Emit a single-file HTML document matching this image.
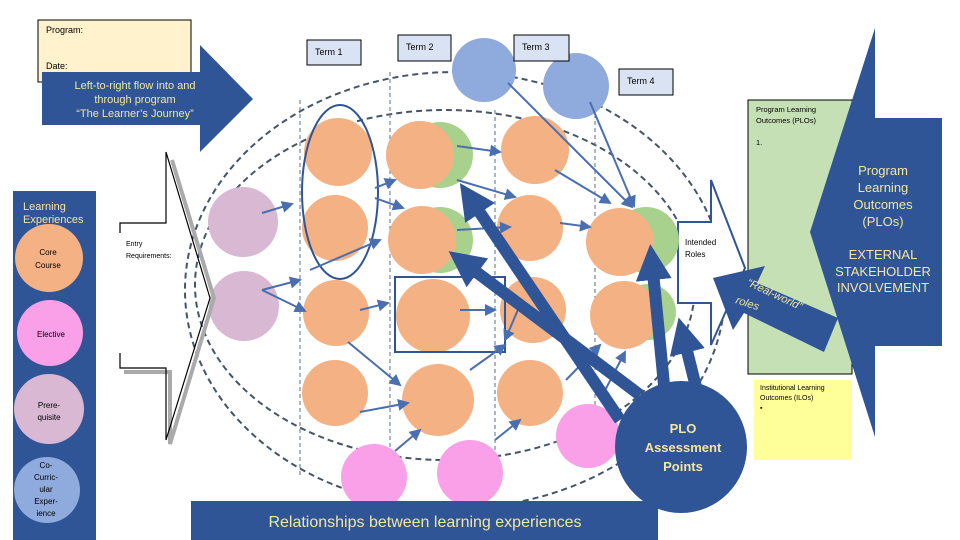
<!DOCTYPE html>
<html><head><meta charset="utf-8"><style>
body{margin:0;background:#fff;}
svg{display:block;font-family:"Liberation Sans",sans-serif;}
</style></head><body>
<svg width="960" height="540" viewBox="0 0 960 540" xmlns="http://www.w3.org/2000/svg">
<defs>
<marker id="a" markerWidth="6" markerHeight="6" refX="5" refY="3" orient="auto"><path d="M0,0L6,3L0,6z" fill="#4a6fb0"/></marker>
<marker id="b" markerWidth="3" markerHeight="3" refX="1.5" refY="1.5" orient="auto"><path d="M0,0L3,1.5L0,3z" fill="#2f5597"/></marker>
</defs>
<ellipse cx="455" cy="290" rx="270" ry="218" fill="none" stroke="#44546a" stroke-width="2" stroke-dasharray="6,4"/>
<ellipse cx="445" cy="285" rx="250" ry="175" fill="none" stroke="#44546a" stroke-width="2" stroke-dasharray="6,4"/>
<g stroke="#5b6e8c" stroke-dasharray="4,3" stroke-width="1">
<line x1="300" y1="100" x2="300" y2="475"/><line x1="390" y1="72" x2="390" y2="470"/><line x1="595" y1="100" x2="595" y2="450"/><line x1="495" y1="110" x2="495" y2="470"/>
</g>
<rect x="748" y="100" width="104" height="274" fill="#c5e0b4" stroke="#000" stroke-width="1"/>
<polygon points="875,28 875,118 942,118 942,346 875,346 875,437 810,232" fill="#2f5597"/>
<text fill="#f2e6a0" font-size="13" text-anchor="middle"><tspan x="883" y="175">Program</tspan><tspan x="883" y="192">Learning</tspan><tspan x="883" y="209">Outcomes</tspan><tspan x="883" y="226">(PLOs)</tspan><tspan x="883" y="259">EXTERNAL</tspan><tspan x="883" y="276">STAKEHOLDER</tspan><tspan x="883" y="292">INVOLVEMENT</tspan></text>
<text font-size="7.5" fill="#000"><tspan x="756" y="112">Program Learning</tspan><tspan x="756" y="123">Outcomes (PLOs)</tspan><tspan x="756" y="145">1.</tspan></text>
<rect x="754" y="380" width="98" height="80" fill="#ffff99"/>
<text font-size="7" fill="#000"><tspan x="760" y="390">Institutional Learning</tspan><tspan x="760" y="400">Outcomes (ILOs)</tspan><tspan x="760" y="410">▪</tspan></text>
<polygon points="678,222 711,222 711,180 745,268 711,345 711,303 678,303" fill="#fff" stroke="#2f5597" stroke-width="2"/>
<text font-size="8" fill="#000"><tspan x="685" y="245">Intended</tspan><tspan x="685" y="257">Roles</tspan></text>
<polygon points="713,278 765,266 757,283 838,318 824,352 744,313 733,330" fill="#2f5597"/>
<text font-size="11" fill="#f2e6a0" font-style="italic" transform="translate(746,285) rotate(25)">“Real-world”</text>
<text font-size="11" fill="#f2e6a0" font-style="italic" transform="translate(735,303) rotate(18)">roles</text>
<circle cx="484" cy="70" r="32" fill="#8faadc"/>
<circle cx="576" cy="86" r="33" fill="#8faadc"/>
<g fill="#a9d18e"><circle cx="440" cy="155" r="33"/><circle cx="440" cy="240" r="33"/><circle cx="646" cy="240" r="33"/><circle cx="648" cy="312" r="28"/></g>
<g fill="#f4b183">
<circle cx="338" cy="152" r="34"/><circle cx="335" cy="228" r="33"/><circle cx="336" cy="313" r="33"/><circle cx="335" cy="393" r="33"/>
<circle cx="420" cy="155" r="34"/><circle cx="422" cy="240" r="34"/><circle cx="433" cy="316" r="37"/><circle cx="438" cy="400" r="36"/>
<circle cx="535" cy="150" r="34"/><circle cx="530" cy="228" r="33"/><circle cx="533" cy="310" r="33"/><circle cx="530" cy="393" r="33"/>
<circle cx="620" cy="242" r="34"/><circle cx="624" cy="315" r="34"/>
</g>
<g fill="#f9a0e8"><circle cx="374" cy="477" r="33"/><circle cx="470" cy="473" r="33"/><circle cx="588" cy="436" r="32"/></g>
<g fill="#d9b8d4"><circle cx="243" cy="222" r="35"/><circle cx="244" cy="306" r="35"/></g>
<ellipse cx="340" cy="192" rx="38" ry="87" fill="none" stroke="#2f5597" stroke-width="2"/>
<rect x="395" y="277" width="110" height="75" fill="none" stroke="#2f5597" stroke-width="2"/>
<g stroke="#4a6fb0" stroke-width="2" marker-end="url(#a)">
<line x1="262" y1="213" x2="292" y2="204"/><line x1="262" y1="290" x2="300" y2="280"/><line x1="262" y1="290" x2="305" y2="311"/>
<line x1="375" y1="188" x2="395" y2="180"/><line x1="375" y1="198" x2="403" y2="208"/><line x1="310" y1="270" x2="380" y2="240"/>
<line x1="360" y1="310" x2="388" y2="303"/><line x1="348" y1="342" x2="400" y2="385"/><line x1="360" y1="412" x2="408" y2="403"/><line x1="395" y1="451" x2="420" y2="430"/>
<line x1="457" y1="146" x2="500" y2="152"/><line x1="457" y1="180" x2="515" y2="197"/><line x1="457" y1="230" x2="510" y2="227"/><line x1="460" y1="310" x2="495" y2="310"/><line x1="470" y1="370" x2="505" y2="345"/>
<line x1="508" y1="83" x2="632" y2="207"/><line x1="590" y1="102" x2="634" y2="206"/><line x1="555" y1="170" x2="610" y2="203"/><line x1="560" y1="223" x2="590" y2="227"/>
<line x1="495" y1="440" x2="520" y2="420"/><line x1="600" y1="400" x2="625" y2="352"/><line x1="566" y1="380" x2="600" y2="345"/><line x1="520" y1="305" x2="505" y2="340"/>
</g>
<g stroke="#2f5597" stroke-width="12" marker-end="url(#b)">
<line x1="620" y1="420" x2="470" y2="198"/><line x1="640" y1="395" x2="463" y2="262"/><line x1="665" y1="395" x2="652" y2="262"/><line x1="698" y1="395" x2="683" y2="335"/>
</g>
<circle cx="681" cy="447" r="66" fill="#2f5597"/>
<text fill="#f2e6a0" font-size="13" font-weight="bold" text-anchor="middle"><tspan x="683" y="433">PLO</tspan><tspan x="683" y="452">Assessment</tspan><tspan x="683" y="471">Points</tspan></text>
<rect x="191" y="501" width="467" height="39" fill="#2f5597"/>
<text x="425" y="527" fill="#f2e6a0" font-size="16" text-anchor="middle">Relationships between learning experiences</text>
<g fill="#dae3f3" stroke="#000" stroke-width="1">
<rect x="307" y="40" width="54" height="25"/><rect x="398" y="35" width="53" height="26"/><rect x="514" y="35" width="55" height="26"/><rect x="619" y="69" width="54" height="26"/>
</g>
<text font-size="9" fill="#000"><tspan x="315" y="55">Term 1</tspan><tspan x="406" y="50">Term 2</tspan><tspan x="522" y="50">Term 3</tspan><tspan x="627" y="84">Term 4</tspan></text>
<rect x="38" y="20" width="153" height="62" fill="#fff2cc" stroke="#000" stroke-width="1"/>
<text font-size="9" fill="#000"><tspan x="46" y="33">Program:</tspan><tspan x="46" y="69">Date:</tspan></text>
<polygon points="42,72 200,72 200,45 253,99 200,152 200,125 42,125" fill="#2f5597"/>
<text fill="#f2e6a0" font-size="11" text-anchor="middle"><tspan x="135" y="89">Left-to-right flow  into and</tspan><tspan x="135" y="103">through program</tspan><tspan x="135" y="117">“The Learner’s Journey”</tspan></text>
<polyline points="124,372 170,372 170,444 214,298 172,160" fill="none" stroke="#aaa" stroke-width="4"/>
<polyline points="120,233 120,223 166,223 166,152 210,298 166,440 166,368 120,368 120,353" fill="none" stroke="#000" stroke-width="1.2"/>
<text font-size="7" fill="#000"><tspan x="126" y="246">Entry</tspan><tspan x="126" y="258">Requirements:</tspan></text>
<rect x="13" y="191" width="83" height="349" fill="#2f5597"/>
<text fill="#f2e6a0" font-size="11"><tspan x="23" y="210">Learning</tspan><tspan x="23" y="223">Experiences</tspan></text>
<circle cx="49" cy="258" r="34" fill="#f4b183"/><circle cx="50" cy="333" r="33" fill="#f9a0e8"/><circle cx="49" cy="409" r="35" fill="#d9b8d4"/><circle cx="47" cy="490" r="33" fill="#8faadc"/>
<text font-size="8" fill="#000" text-anchor="middle"><tspan x="48" y="255">Core</tspan><tspan x="48" y="268">Course</tspan><tspan x="51" y="337">Elective</tspan><tspan x="49" y="408">Prere-</tspan><tspan x="49" y="420">quisite</tspan><tspan x="46" y="468">Co-</tspan><tspan x="46" y="480">Curric-</tspan><tspan x="46" y="492">ular</tspan><tspan x="46" y="504">Exper-</tspan><tspan x="46" y="516">ience</tspan></text>
</svg>
</body></html>
